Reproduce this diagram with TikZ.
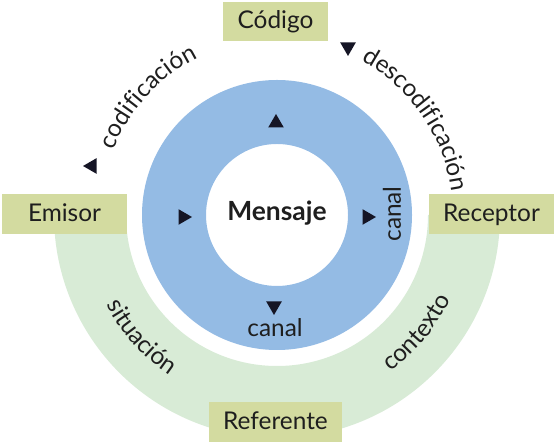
\documentclass[tikz,border=0pt]{standalone}
\usepackage{fontspec}
\setmainfont{Lato}
\usetikzlibrary{shapes.geometric,decorations.text}
\definecolor{boxfill}{HTML}{D3DBA0}
\definecolor{ringgreen}{HTML}{D8EBD6}
\definecolor{ringblue}{HTML}{94BBE4}
\definecolor{trifill}{HTML}{151525}
\definecolor{ink}{HTML}{1E1E1E}
\newcommand\lblfont{\fontsize{24.5}{24.5}\selectfont\color{ink}}
\newcommand\msgfont{\fontsize{26.5}{26.5}\selectfont\bfseries\color{ink}}
\begin{document}
\begin{tikzpicture}[x=1bp,y=1bp,
  lbl/.style={font=\lblfont, text=ink},
  box/.style={lbl, fill=boxfill, inner sep=0pt, minimum height=40bp, text height=17bp, text depth=2bp},
  tri/.style={regular polygon, regular polygon sides=3, fill=trifill, inner sep=0pt, minimum size=18bp},
  curved/.style={decorate, decoration={text along path, text align=center, text={|\lblfont|#1}}},
]
\useasboundingbox (0,0) rectangle (555,443);
\coordinate (C) at (277,228);
% green half ring
\fill[ringgreen] (C) ++(180:223) arc (180:360:223) -- ++(-72,0) arc (360:180:151) -- cycle;
% blue ring
\fill[ringblue, even odd rule] (C) circle (135) (C) circle (71);
% boxes
\node[box, minimum width=105bp, minimum height=39bp] (codigo) at (275.5,421.5) {Código};
\node[box, minimum width=125bp] (emisor) at (64.5,229) {Emisor};
\node[box, minimum width=125bp] (receptor) at (491.5,229) {Receptor};
\node[box, minimum width=133bp] (referente) at (275.5,21) {Referente};
% center
\node[lbl, font=\msgfont] (mensaje) at (277,230) {Mensaje};
\node[lbl] (canalb) at (275,115) {canal};
\node[lbl, rotate=90] (canalr) at (392,229) {canal};
% triangles
\node[tri] (tup) at (276,320) {};
\node[tri, shape border rotate=-90] (tleft) at (183,226) {};
\node[tri, shape border rotate=-90] (tright) at (367,226) {};
\node[tri, shape border rotate=180] (tdown) at (274,137) {};
\node[tri, shape border rotate=90] (tcod) at (92,277) {};
\node[tri, shape border rotate=180] (tdesc) at (348,396) {};
% curved labels
\path[curved={codificación}] (C) ++(170:176) arc (170:105:176);
\path[curved={descodificación}] (C) ++(75:176) arc (75:-6:176);
\path[curved={situación}] (C) ++(195:193) arc (195:249:193);
\path[curved={contexto}] (C) ++(293:193) arc (293:347:193);
\end{tikzpicture}
\end{document}
